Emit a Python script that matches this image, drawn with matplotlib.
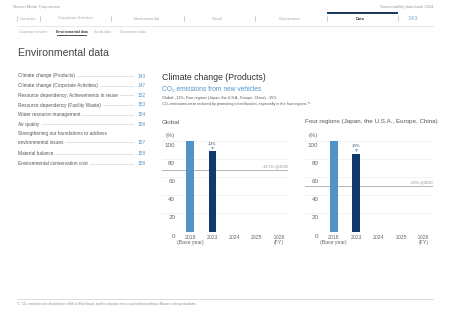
import numpy as np
import matplotlib.pyplot as plt
from matplotlib.lines import Line2D
from matplotlib.patches import Rectangle
import matplotlib.transforms as mtransforms

plt.rcParams['font.family'] = ['Liberation Sans', 'DejaVu Sans']

# ---- data ----
years = ["2018", "2023", "2024", "2025", "2026"]
year_notes = ["(Base year)", "", "", "", "(FY)"]
global_vals = [100, 88]          # 2018, 2023 (index, base = 100)
four_vals = [100, 85]
global_target = 67.5             # -32.5% @2030
four_target = 50                 # -50% @2030
global_target_label = "-32.5% @2030"
four_target_label = "-50% @2030"
global_change = "-12%"
four_change = "-15%"
yticks = [0, 20, 40, 60, 80, 100]

nav_items = ["Contents", "Corporate direction", "Environmental", "Social", "Governance", "Data"]
sub_nav = ["Corporate concern", "Environmental data", "Social data", "Governance data"]
toc_items = [
    ("Climate change (Products)", "143"),
    ("Climate change (Corporate Activities)", "147"),
    ("Resource dependency: Achievements in reuse", "152"),
    ("Resource dependency (Facility Waste)", "153"),
    ("Water resource management", "154"),
    ("Air quality", "156"),
    ("Strengthening our foundations to address\nenvironmental issues", "157"),
    ("Material balance", "158"),
    ("Environmental conservation cost", "158"),
]

W, H = 452, 320
LIGHT = "#4f93c8"
DARK = "#0f3a6b"
GREY = "#8a8a8a"

fig = plt.figure(figsize=(W / 100, H / 100), dpi=100)


def T(x, y, s, **kw):
    kw.setdefault("va", "center")
    return fig.text(x / W, 1 - y / H, s, **kw)


def hline(x0, x1, y, **kw):
    fig.add_artist(Line2D([x0 / W, x1 / W], [1 - y / H, 1 - y / H], transform=fig.transFigure, **kw))


def vline(x, y0, y1, **kw):
    fig.add_artist(Line2D([x / W, x / W], [1 - y0 / H, 1 - y1 / H], transform=fig.transFigure, **kw))


# ---- header ----
T(12.7, 7.3, "Nissan Motor Corporation", fontsize=3, color="#9a9a9a")
T(433, 7.3, "Sustainability data book 2024", fontsize=3, color="#9a9a9a", ha="right")
fig.add_artist(Rectangle((327 / W, 1 - 14 / H), 71 / W, 2.3 / H, transform=fig.transFigure,
                         color="#1d3a5f", lw=0))
nav_x = [28.5, 75, 147, 217.5, 290, 360]
for name, x in zip(nav_items, nav_x):
    bold = name == "Data"
    T(x, 18.5, name, fontsize=3, ha="center", color="#333333" if bold else "#a8a8a8",
      weight="bold" if bold else "normal")
for x in [16.7, 40, 111, 184, 255, 327, 398]:
    vline(x, 16, 21, color="#bbbbbb", lw=0.5)
T(413, 18.5, "143", fontsize=4.5, ha="center", color="#7fb0d8")
hline(16.7, 433, 25.7, color="#dddddd", lw=0.5)

sub_x = [32.5, 71.5, 102.5, 133.5]
for name, x in zip(sub_nav, sub_x):
    bold = name == "Environmental data"
    T(x, 31.8, name, fontsize=2.4, ha="center", color="#333333" if bold else "#a8a8a8",
      weight="bold" if bold else "normal")
hline(57, 86, 34.8, color="#333333", lw=0.6)

# ---- page title & TOC ----
T(18, 53, "Environmental data", fontsize=7.6, color="#444444")

fig.canvas.draw()
renderer = fig.canvas.get_renderer()
toc_y = [76, 85.7, 95.4, 105, 114.7, 124.4, 138, 153.5, 163.5]
for (name, page), y in zip(toc_items, toc_y):
    lines = name.split("\n")
    if len(lines) == 2:
        T(18, y - 4, lines[0], fontsize=3.4, color="#555555")
        t = T(18, y + 4, lines[1], fontsize=3.4, color="#555555")
        yy = y + 4
    else:
        t = T(18, y, name, fontsize=3.4, color="#555555")
        yy = y
    bb = t.get_window_extent(renderer)
    hline(bb.x1 + 2, 133, yy, color="#cccccc", lw=0.4)
    T(138, yy, page, fontsize=3.4, color=LIGHT)

# ---- right panel text ----
T(162, 78, "Climate change (Products)", fontsize=6.3, color="#333333")
T(162, 89, "CO\u2082 emissions from new vehicles", fontsize=4.8, color=LIGHT)
T(162, 98, "Global: -12%; Four regions (Japan, the U.S.A., Europe, China): -15%", fontsize=2.7, color="#555555")
T(162, 103.5, "CO\u2082 emissions were reduced by promoting electrification, especially in the four regions.*\u00b9",
  fontsize=2.7, color="#555555")
T(162, 122, "Global", fontsize=4.5, color="#555555")
T(305, 122, "Four regions (Japan, the U.S.A., Europe, China)", fontsize=4.5, color="#555555")


# ---- charts ----
def draw_chart(left_px, width_px, vals, target, target_label, change):
    ax = fig.add_axes([left_px / W, (H - 231.7) / H, width_px / W, (231.7 - 136) / H])
    x = np.arange(len(years))
    ax.set_xlim(-1.27, 4.4)
    ax.set_ylim(0, 105)
    for v in yticks[1:]:
        ax.axhline(v, color="#ededed", lw=0.5, zorder=0)
    ax.axhline(0, color="#9a9a9a", lw=0.6, zorder=3)
    ax.bar(x[:len(vals)], vals, width=0.35, color=[LIGHT, DARK][:len(vals)], zorder=2)
    ax.axhline(target, color="#b5b5b5", lw=0.7, zorder=1)
    ax.text(4.38, target + 1.5, target_label, fontsize=2.8, color=GREY, ha="right", va="bottom")
    # change annotation above latest bar
    ax.text(x[1], vals[1] + 8.5, change, fontsize=2.6, color=DARK, ha="center", va="center")
    ax.scatter([x[1]], [vals[1] + 4.2], s=5, color="#7fb0d8", marker="v", lw=0, zorder=4)
    # y labels, hanging just under the gridlines
    trans = mtransforms.blended_transform_factory(ax.transAxes, ax.transData) + \
        mtransforms.ScaledTranslation(0, -4.5 / 100, fig.dpi_scale_trans)
    for v in yticks:
        ax.text(0.105, v, str(v), fontsize=4.5, color="#666666", ha="right", va="center", transform=trans)
    ax.text(0.03, 1.0, "(%)", fontsize=4.2, color="#666666", ha="left", va="center",
            transform=ax.transAxes)
    ax.set_xticks(x)
    ax.set_xticklabels([f"{yr}\n{n}" if n else yr for yr, n in zip(years, year_notes)],
                       fontsize=3.7, color="#666666", linespacing=1.0, va="top")
    ax.tick_params(axis="x", length=0, pad=2.5)
    ax.set_yticks([])
    for s in ax.spines.values():
        s.set_visible(False)
    ax.patch.set_alpha(0)
    return ax


draw_chart(162, 126, global_vals, global_target, global_target_label, global_change)
draw_chart(305, 128, four_vals, four_target, four_target_label, four_change)

# ---- footer ----
hline(17, 433, 299, color="#cccccc", lw=0.5)
T(17, 304, "*1   CO\u2082 emissions are calculated on a Well to Wheel basis, and the reduction rate is calculated "
  "according to Nissan's internal standards.", fontsize=2.1, color="#888888")

fig.savefig("out.png", dpi=100)
